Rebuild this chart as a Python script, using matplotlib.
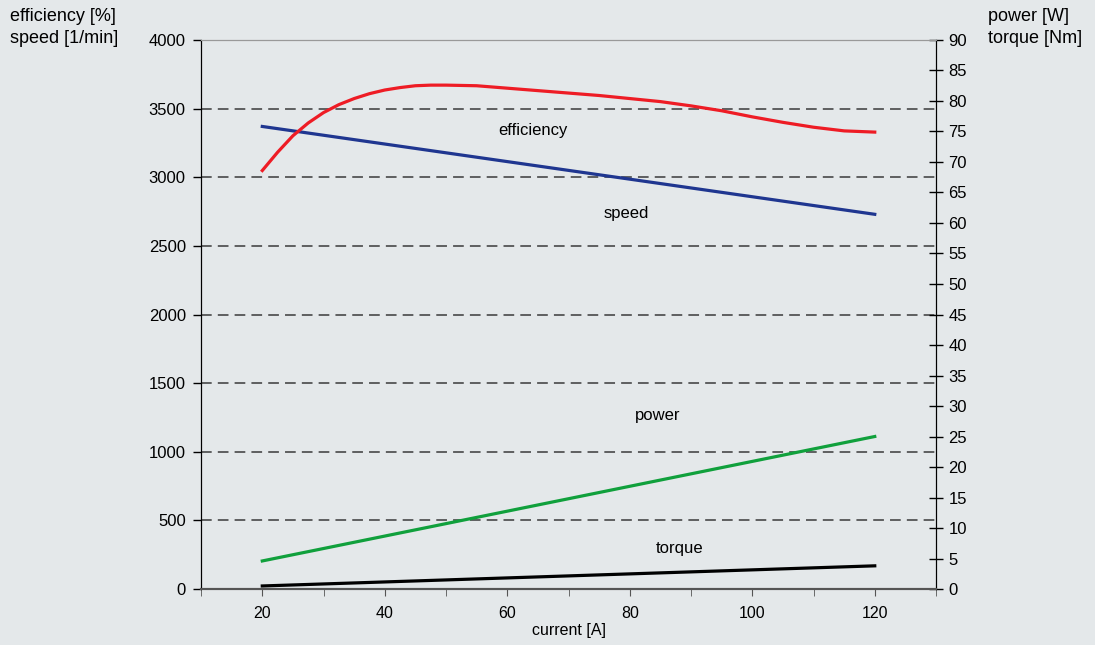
import numpy as np
import matplotlib
matplotlib.use("Agg")
import matplotlib.pyplot as plt

plt.rcParams['font.family'] = ['Liberation Sans', 'DejaVu Sans']

# current [A]
current = [20, 120]
speed = [3370, 2730]          # 1/min, left axis
power = [4.6, 25.0]           # right axis
torque = [0.5, 3.8]           # right axis

eff_current = [20, 22.5, 25, 27.5, 30, 32.5, 35, 37.5, 40, 42.5, 45, 47.5, 50, 55, 60, 65,
               70, 75, 80, 85, 90, 95, 100, 105, 110, 115, 120]
efficiency = [68.6, 71.6, 74.3, 76.4, 78.1, 79.4, 80.4, 81.2, 81.8, 82.2, 82.5, 82.6, 82.6,
              82.5, 82.1, 81.7, 81.3, 80.9, 80.4, 79.9, 79.2, 78.4, 77.4, 76.5, 75.7, 75.1, 74.9]

left_ticks = [0, 500, 1000, 1500, 2000, 2500, 3000, 3500, 4000]
right_ticks = list(range(0, 95, 5))
x_major = [20, 40, 60, 80, 100, 120]

bg = '#e4e8ea'
fig = plt.figure(figsize=(10.95, 6.45), dpi=100, facecolor=bg)
ax = fig.add_axes([0.1836, 0.0868, 0.8548 - 0.1836, 0.938 - 0.0868])
ax.set_facecolor(bg)
ax2 = ax.twinx()

ax.set_xlim(10, 130)
ax.set_ylim(0, 4000)
ax2.set_ylim(0, 90)

for v in left_ticks[1:-1]:
    ax.axhline(v, color='#3a3a3a', lw=1.1, dashes=(7, 4), zorder=1)

lw = 2.3
ax.plot(current, speed, color='#1f3690', lw=lw, zorder=3)
ax2.plot(eff_current, efficiency, color='#ee1c25', lw=lw, zorder=3)
ax2.plot(current, power, color='#10a03c', lw=lw, zorder=3)
ax2.plot(current, torque, color='black', lw=lw, zorder=3)

ax2.text(64.2, 75.1, 'efficiency', fontsize=12, ha='center', va='center')
ax2.text(79.4, 61.5, 'speed', fontsize=12, ha='center', va='center')
ax2.text(84.6, 28.5, 'power', fontsize=12, ha='center', va='center')
ax2.text(88.2, 6.7, 'torque', fontsize=12, ha='center', va='center')

ax.set_xticks(np.arange(10, 131, 10), minor=True)
ax.set_xticks(x_major)
ax.set_xticklabels([str(v) for v in x_major], fontsize=11.5)
ax.tick_params(axis='x', which='both', direction='out', length=5, color='#555555', pad=7)
ax.set_xlabel('current [A]', fontsize=11.5, labelpad=2)

ax.set_yticks(left_ticks)
ax.set_yticklabels([str(v) for v in left_ticks], fontsize=12)
ax.tick_params(axis='y', direction='out', length=6, width=1, pad=5)
ax2.set_yticks(right_ticks)
ax2.set_yticklabels([str(v) for v in right_ticks], fontsize=12)
ax2.tick_params(axis='y', direction='inout', length=10, width=1, pad=4)

for a in (ax, ax2):
    a.spines['top'].set_color('#999999')
    a.spines['bottom'].set_color('#555555')
    a.spines['left'].set_color('black')
    a.spines['right'].set_color('black')
    a.spines['bottom'].set_linewidth(1.5)

fig.text(0.009, 0.988, 'efficiency [%]\nspeed [1/min]', fontsize=13, ha='left', va='top',
         linespacing=1.4)
fig.text(0.902, 0.988, 'power [W]\ntorque [Nm]', fontsize=13, ha='left', va='top',
         linespacing=1.4)

fig.savefig('out.png', dpi=100, facecolor=bg)
